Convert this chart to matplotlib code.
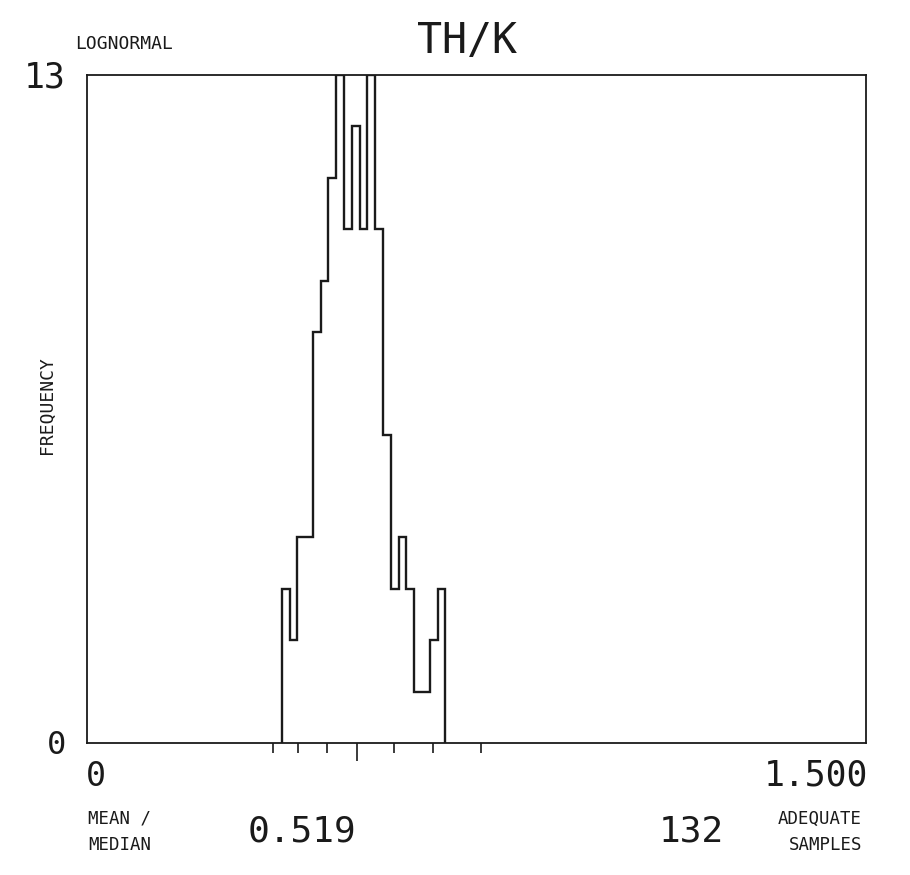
import numpy as np
import matplotlib
matplotlib.use('Agg')
import matplotlib.pyplot as plt

# histogram of TH/K ratios (lognormal fit), 21 bins
bin_start = 0.375
bin_width = 0.015
counts = [3, 2, 4, 4, 8, 9, 11, 13, 10, 12, 10, 13, 10, 6, 3, 4, 3, 1, 1, 2, 3]
edges = bin_start + bin_width * np.arange(len(counts) + 1)

x_max = 1.5
y_max = 13
short_ticks = [0.358, 0.406, 0.462, 0.591, 0.666, 0.759]
median_tick = 0.519

title = 'TH/K'
dist_name = 'LOGNORMAL'
ratio_label = 'MEAN /\nMEDIAN'
ratio_value = '0.519'
n_samples = '132'
samples_label = 'ADEQUATE\nSAMPLES'

W, H = 910, 875
font = 'DejaVu Sans Mono'
ink = '#1a1a1a'


def px(x, y):
    # pixel position (from top-left) -> figure fraction
    return x / W, 1 - y / H


fig = plt.figure(figsize=(W / 100, H / 100), dpi=100)
left, top = px(87, 75)
right, bottom = px(866, 743)
ax = fig.add_axes([left, bottom, right - left, top - bottom])

ax.stairs(counts, edges, baseline=0, color=ink, linewidth=1.7)

ax.set_xlim(0, x_max)
ax.set_ylim(0, y_max)
ax.set_yticks([])
ax.set_xticks(short_ticks)
ax.set_xticks([median_tick], minor=True)
ax.tick_params(axis='x', which='major', direction='out', length=7, width=1.2,
               color=ink, labelbottom=False)
ax.tick_params(axis='x', which='minor', direction='out', length=13, width=1.2,
               color=ink, labelbottom=False)
for s in ax.spines.values():
    s.set_linewidth(1.3)
    s.set_color(ink)


def label(x, y, s, size, ha='left', va='center', **kw):
    fig.text(*px(x, y), s, fontsize=size, ha=ha, va=va, family=font,
             color=ink, **kw)


label(467, 41, title, 30, ha='center')
label(75, 44, dist_name, 13)
label(66, 78, '13', 25, ha='right')
label(66, 745, '0', 23, ha='right')
label(86, 776, '0', 24)
label(868, 776, '1.500', 25, ha='right')
label(47, 405, 'FREQUENCY', 13, ha='center', rotation=90)
label(88, 832, ratio_label, 12.5, linespacing=1.6)
label(248, 832, ratio_value, 26)
label(724, 832, n_samples, 26, ha='right')
label(862, 832, samples_label, 12.5, ha='right', linespacing=1.6,
      multialignment='right')

fig.savefig('out.png', dpi=100, facecolor='white')
